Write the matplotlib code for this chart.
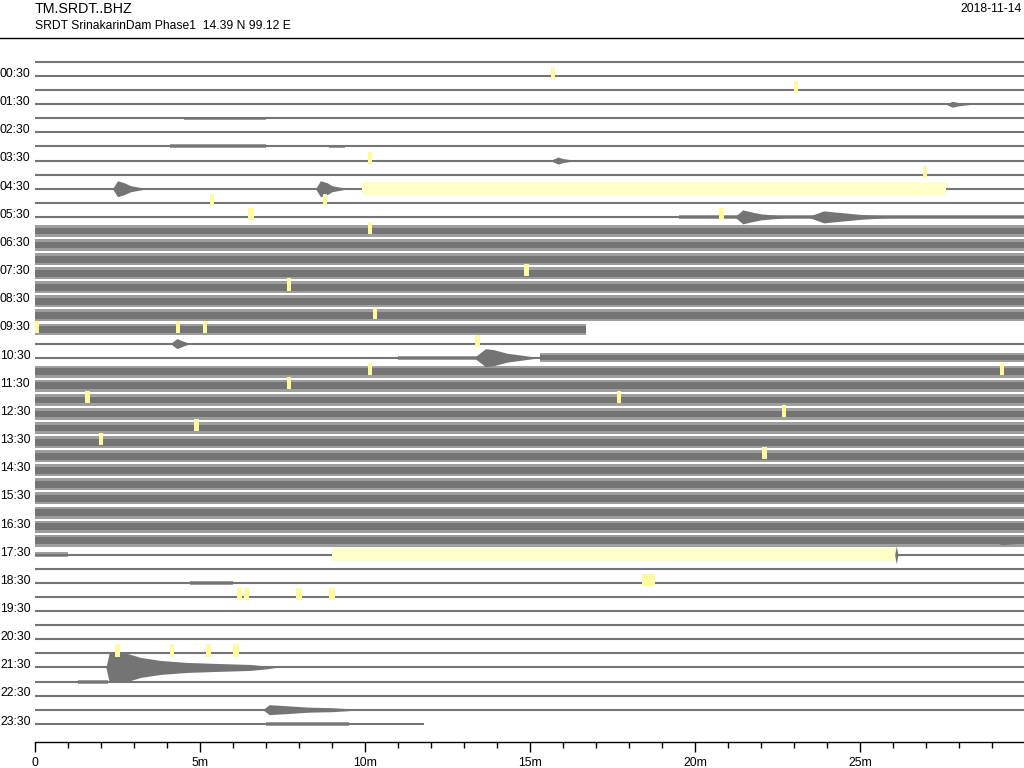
import matplotlib
matplotlib.use("Agg")
import matplotlib.pyplot as plt
from matplotlib.patches import Rectangle
from matplotlib.lines import Line2D
import numpy as np

plt.rcParams['font.family'] = ['Liberation Sans', 'DejaVu Sans']

STATION = "TM.SRDT..BHZ"
SUBTITLE = "SRDT SrinakarinDam Phase1  14.39 N 99.12 E"
DATE = "2018-11-14"

N_LINES = 48          # 30 minute lines over the day
MINUTES = 30

# labels for the odd lines (00:30, 01:30, ...)
row_labels = ["00:30", "01:30", "02:30", "03:30", "04:30", "05:30",
              "06:30", "07:30", "08:30", "09:30", "10:30", "11:30",
              "12:30", "13:30", "14:30", "15:30", "16:30", "17:30",
              "18:30", "19:30", "20:30", "21:30", "22:30", "23:30"]

xtick_minutes = [0, 5, 10, 15, 20, 25]
xtick_labels = ["0", "5m", "10m", "15m", "20m", "25m"]

# where a line has data (minutes); all other lines run 0-30
trace_segments = {
    9: [(0.0, 9.9), (27.6, 30.0)],
    19: [(0.0, 16.7)],
    35: [(0.0, 9.0), (26.1, 30.0)],
    47: [(0.0, 11.8)],
}

# background noise: line, start, end, core half-width (px), peak half-width (px)
noisy_lines = [12, 13, 14, 15, 16, 17, 18,
               22, 23, 24, 25, 26, 27, 28, 29, 30, 31, 32, 33, 34]
noise_spans = [(i, 0.0, 30.0, 3.4, 6.0) for i in noisy_lines] + [
    (4, 4.5, 7.0, 0.0, 1.4),
    (6, 4.1, 7.0, 0.0, 2.0),
    (6, 8.9, 9.4, 0.0, 1.6),
    (11, 19.5, 30.0, 0.0, 2.0),
    (19, 0.0, 16.7, 3.2, 5.5),
    (21, 11.0, 13.4, 0.0, 2.0),
    (21, 15.3, 30.0, 2.4, 4.5),
    (35, 0.0, 1.0, 0.0, 2.5),
    (37, 4.7, 6.0, 0.0, 1.6),
    (44, 1.3, 2.2, 0.0, 2.0),
    (47, 7.0, 9.5, 0.0, 1.8),
]

# earthquake envelopes: line, [(minute, half amplitude px), ...]
events = [
    (3, [(27.6, 0), (27.8, 3), (28.0, 1.5), (28.4, 0)]),
    (7, [(15.6, 0), (15.85, 3.5), (16.0, 2), (16.4, 0)]),
    (9, [(2.35, 0), (2.5, 8), (2.7, 6), (2.9, 3), (3.4, 0)]),
    (9, [(8.5, 0), (8.65, 8), (8.85, 6), (9.0, 3), (9.5, 0)]),
    (11, [(21.2, 0), (21.45, 7), (21.7, 5), (22.0, 3), (23.0, 0)]),
    (11, [(23.4, 0), (23.9, 6), (24.2, 5), (25.0, 2.5), (26.2, 0)]),
    (20, [(4.1, 0), (4.3, 5), (4.45, 3), (4.7, 0)]),
    (21, [(13.3, 0), (13.65, 9), (13.9, 8), (14.3, 4.5), (15.3, 0)]),
    (34, [(29.0, 0), (29.3, 4), (30.0, 2)]),
    (35, [(26.05, 0), (26.1, 9), (26.15, 0)]),
    (43, [(2.15, 0), (2.25, 15), (2.8, 14), (3.2, 10), (3.8, 7),
          (4.6, 5), (5.5, 4), (6.5, 3), (7.0, 1.5), (7.3, 0)]),
    (46, [(6.9, 0), (7.1, 5), (7.6, 4), (8.3, 2.5), (9.0, 2), (10.0, 0)]),
]

# long data gaps (yellow bands): line, start, end
gap_bands = [(9, 9.9, 27.6), (35, 9.0, 26.1)]

# short gaps (small yellow marks): line, minute, width (minutes)
gap_marks = [
    (1, 15.7, 0.14), (2, 23.06, 0.14), (7, 10.15, 0.14), (8, 26.97, 0.14),
    (10, 5.36, 0.14), (10, 8.79, 0.14), (11, 6.55, 0.18), (11, 20.8, 0.14),
    (12, 10.15, 0.14), (15, 14.9, 0.14), (16, 7.7, 0.14), (18, 10.3, 0.14),
    (19, 0.05, 0.12), (19, 4.33, 0.14), (19, 5.15, 0.14), (20, 13.4, 0.14),
    (22, 10.15, 0.14), (22, 29.3, 0.14), (23, 7.7, 0.14), (24, 1.6, 0.14),
    (24, 17.7, 0.14), (25, 22.7, 0.14), (26, 4.9, 0.14), (27, 2.0, 0.14),
    (28, 22.1, 0.14),
    (37, 18.6, 0.4),
    (38, 6.2, 0.14), (38, 6.4, 0.14), (38, 8.0, 0.18), (38, 9.0, 0.18),
    (42, 2.5, 0.18), (42, 4.15, 0.14), (42, 5.25, 0.14), (42, 6.1, 0.18),
]

TRACE = "#747474"
TRACE_LIGHT = "#9e9e9e"
GAP = "#ffffc8"
MARK = "#fff9a0"

W, H = 1024, 768
LINE0_PX, LINE_STEP_PX = 62.0, 14.08
AX_TOP_PX, AX_BOT_PX, AX_LEFT_PX = 45.0, 742.0, 35.0
PX = 1.0 / LINE_STEP_PX   # one pixel in line units


def segments_for(i):
    return trace_segments.get(i, [(0.0, MINUTES)])


def clip(i, t0, t1):
    out = []
    for a, b in segments_for(i):
        lo, hi = max(a, t0), min(b, t1)
        if hi > lo:
            out.append((lo, hi))
    return out


def plot():
    fig = plt.figure(figsize=(W / 100, H / 100), dpi=100)
    ax = fig.add_axes([AX_LEFT_PX / W, 1 - AX_BOT_PX / H,
                       990 / W, (AX_BOT_PX - AX_TOP_PX) / H])
    ax.set_xlim(0, MINUTES)
    ax.set_ylim((AX_BOT_PX - LINE0_PX) / LINE_STEP_PX,
                (AX_TOP_PX - LINE0_PX) / LINE_STEP_PX)

    # plain trace lines
    for i in range(N_LINES):
        for a, b in segments_for(i):
            ax.hlines(i, a, b, color=TRACE, lw=1.5, zorder=3)

    # noise bands
    for i, t0, t1, core, peak in noise_spans:
        for a, b in clip(i, t0, t1):
            ax.fill_between([a, b], i - peak * PX, i + peak * PX,
                            color=TRACE_LIGHT, lw=0, zorder=2)
            if core > 0:
                ax.fill_between([a, b], i - core * PX, i + core * PX,
                                color=TRACE, lw=0, zorder=2)

    # events
    for i, pts in events:
        t = np.array([p[0] for p in pts])
        amp = np.array([p[1] for p in pts]) * PX
        ax.fill_between(t, i - amp, i + amp, color=TRACE, lw=0, zorder=3)

    # gaps
    for i, t0, t1 in gap_bands:
        ax.add_patch(Rectangle((t0, i - 0.47), t1 - t0, 0.94,
                               color=GAP, lw=0, zorder=1))
    for i, t, w in gap_marks:
        ax.add_patch(Rectangle((t - w / 2, i - 0.2 - 0.43), w, 0.86,
                               color=MARK, lw=0, zorder=4))

    # axes cosmetics
    for side in ("top", "left", "right"):
        ax.spines[side].set_visible(False)
    ax.spines["bottom"].set_linewidth(1.0)
    ax.set_yticks([])
    ax.set_xticks(xtick_minutes)
    ax.set_xticklabels(xtick_labels, fontsize=8.8)
    ax.set_xticks(np.arange(0, MINUTES), minor=True)
    ax.tick_params(axis="x", which="major", length=7.5, width=1, pad=3)
    ax.tick_params(axis="x", which="minor", length=4, width=1)

    ytr = ax.get_yaxis_transform()
    for k, lab in enumerate(row_labels):
        ax.text(-AX_LEFT_PX / 990, 2 * k + 1 - 0.15, lab, transform=ytr,
                ha="left", va="center", fontsize=8.8, clip_on=False)

    # header
    fig.text(AX_LEFT_PX / W, 1 - 9 / H, STATION, ha="left", va="center",
             fontsize=10.3)
    fig.text(AX_LEFT_PX / W, 1 - 26 / H, SUBTITLE, ha="left", va="center",
             fontsize=8.7)
    fig.text(1022 / W, 1 - 9 / H, DATE, ha="right", va="center",
             fontsize=8.8)
    fig.add_artist(Line2D([0, 1], [1 - 38 / H, 1 - 38 / H],
                          transform=fig.transFigure, color="black", lw=1))

    fig.savefig("out.png", dpi=100)


if __name__ == "__main__":
    plot()
